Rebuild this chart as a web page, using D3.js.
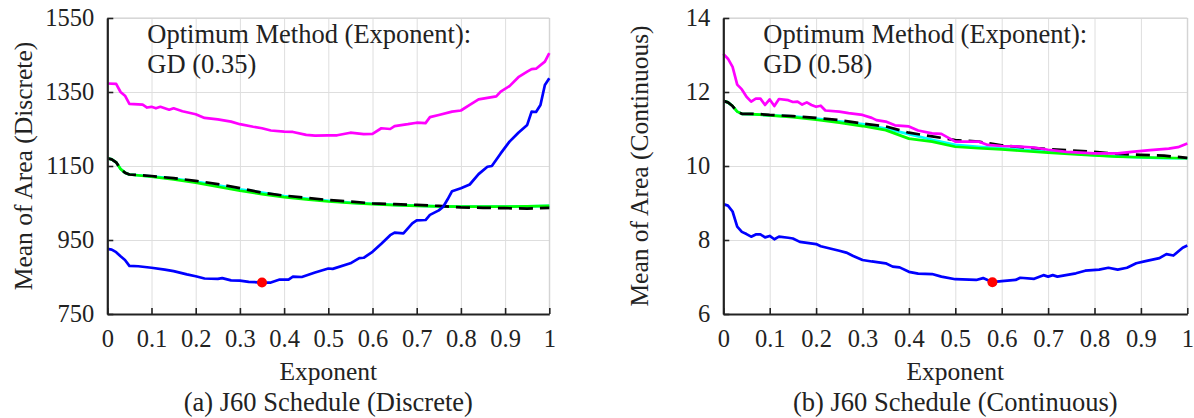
<!DOCTYPE html>
<html>
<head>
<meta charset="utf-8">
<script src="https://cdn.jsdelivr.net/npm/d3@7"></script>
<style>
  body { margin: 0; background: #fff; }
  svg text { font-family: "Liberation Serif", "Times New Roman", serif; fill: #222; }
</style>
</head>
<body>
<svg id="viz" width="1194" height="418"></svg>
<script>
// x tick labels shared by both panels
var xTicks = [0, 0.1, 0.2, 0.3, 0.4, 0.5, 0.6, 0.7, 0.8, 0.9, 1];
var xTickLabels = ["0", "0.1", "0.2", "0.3", "0.4", "0.5", "0.6", "0.7", "0.8", "0.9", "1"];

// (a) discrete
var discYTicks = [750, 950, 1150, 1350, 1550];
var discMagenta = [[0,1373],[0.02,1372],[0.03,1350],[0.04,1340],[0.05,1318],[0.08,1316],[0.09,1308],[0.1,1310],[0.11,1306],[0.12,1310],[0.14,1302],[0.15,1306],[0.17,1298],[0.2,1290],[0.22,1280],[0.25,1276],[0.28,1270],[0.3,1263],[0.33,1256],[0.35,1252],[0.37,1246],[0.4,1243],[0.42,1242],[0.45,1234],[0.47,1232],[0.5,1233],[0.52,1233],[0.55,1240],[0.58,1236],[0.6,1237],[0.62,1252],[0.64,1250],[0.65,1258],[0.68,1263],[0.7,1267],[0.72,1266],[0.73,1282],[0.75,1288],[0.78,1297],[0.8,1300],[0.82,1315],[0.84,1330],[0.86,1334],[0.88,1338],[0.89,1351],[0.91,1366],[0.93,1390],[0.95,1405],[0.96,1412],[0.97,1413],[0.99,1432],[1,1455]];
var discBlack = [[0,1171],[0.01,1168],[0.02,1160],[0.03,1142],[0.04,1132],[0.05,1127],[0.1,1123],[0.15,1117],[0.2,1110],[0.25,1101],[0.3,1090],[0.35,1078],[0.4,1070],[0.45,1064],[0.5,1058],[0.55,1054],[0.6,1049],[0.65,1047],[0.7,1045],[0.75,1042],[0.8,1038],[0.85,1037],[0.9,1036],[0.95,1035],[1,1037]];
var discCyan = [[0,1171],[0.01,1168],[0.02,1160],[0.03,1142],[0.04,1132],[0.05,1127],[0.1,1122],[0.15,1116],[0.2,1108],[0.25,1098],[0.3,1087],[0.35,1078],[0.4,1069],[0.45,1062],[0.5,1056],[0.55,1051],[0.6,1048],[0.65,1045],[0.7,1043],[0.75,1041],[0.8,1040],[0.85,1040],[0.9,1040],[0.95,1041],[1,1042]];
var discGreen = [[0,1171],[0.01,1168],[0.02,1160],[0.03,1142],[0.04,1132],[0.05,1127],[0.1,1121],[0.15,1114],[0.2,1105],[0.25,1094],[0.3,1083],[0.35,1074],[0.4,1066],[0.45,1060],[0.5,1054],[0.55,1050],[0.6,1047],[0.65,1044],[0.7,1042],[0.75,1041],[0.8,1040],[0.85,1040],[0.9,1040],[0.95,1041],[1,1042]];
var discBlue = [[0,926],[0.01,924],[0.02,917],[0.03,906],[0.04,896],[0.05,880],[0.07,879],[0.1,875],[0.13,870],[0.15,866],[0.18,857],[0.2,852],[0.22,846],[0.25,845],[0.26,847],[0.28,841],[0.3,840],[0.32,837],[0.35,835],[0.37,835],[0.39,843],[0.41,843],[0.42,851],[0.44,850],[0.47,862],[0.5,873],[0.51,872],[0.55,887],[0.57,901],[0.58,902],[0.6,918],[0.62,940],[0.64,963],[0.65,970],[0.67,968],[0.69,995],[0.7,1003],[0.72,1004],[0.73,1018],[0.75,1030],[0.76,1040],[0.77,1060],[0.78,1082],[0.8,1090],[0.82,1100],[0.84,1128],[0.86,1148],[0.87,1150],[0.89,1184],[0.91,1216],[0.93,1240],[0.95,1261],[0.96,1297],[0.97,1296],[0.98,1315],[0.99,1369],[1,1387]];
var discBest = [0.35, 835];

// (b) continuous
var contYTicks = [6, 8, 10, 12, 14];
var contMagenta = [[0,13.03],[0.01,12.9],[0.02,12.68],[0.03,12.2],[0.04,12.07],[0.05,11.87],[0.06,11.74],[0.07,11.82],[0.08,11.82],[0.09,11.65],[0.1,11.8],[0.11,11.62],[0.12,11.81],[0.14,11.78],[0.15,11.73],[0.16,11.74],[0.17,11.66],[0.18,11.72],[0.19,11.65],[0.2,11.6],[0.21,11.63],[0.22,11.5],[0.25,11.47],[0.27,11.43],[0.3,11.38],[0.32,11.3],[0.33,11.24],[0.35,11.2],[0.37,11.1],[0.4,11.07],[0.42,10.96],[0.45,10.88],[0.47,10.87],[0.5,10.66],[0.55,10.66],[0.57,10.57],[0.6,10.54],[0.63,10.53],[0.67,10.5],[0.7,10.44],[0.74,10.38],[0.8,10.34],[0.85,10.34],[0.88,10.38],[0.92,10.43],[0.96,10.47],[0.98,10.51],[1,10.61]];
var contBlack = [[0,11.76],[0.01,11.72],[0.02,11.62],[0.03,11.47],[0.04,11.41],[0.06,11.41],[0.08,11.4],[0.1,11.38],[0.15,11.35],[0.2,11.3],[0.25,11.24],[0.3,11.15],[0.35,11.07],[0.4,10.9],[0.45,10.8],[0.5,10.7],[0.55,10.66],[0.6,10.56],[0.65,10.5],[0.7,10.46],[0.75,10.42],[0.8,10.38],[0.85,10.33],[0.9,10.3],[0.95,10.28],[1,10.22]];
var contCyan = [[0,11.76],[0.01,11.72],[0.02,11.62],[0.03,11.47],[0.04,11.41],[0.06,11.4],[0.1,11.37],[0.15,11.34],[0.2,11.28],[0.25,11.21],[0.3,11.13],[0.35,11.01],[0.4,10.86],[0.45,10.71],[0.5,10.57],[0.55,10.52],[0.6,10.48],[0.65,10.43],[0.7,10.38],[0.75,10.34],[0.8,10.29],[0.85,10.26],[0.9,10.23],[0.95,10.21],[1,10.21]];
var contGreen = [[0,11.76],[0.01,11.72],[0.02,11.62],[0.03,11.47],[0.04,11.41],[0.06,11.4],[0.1,11.37],[0.15,11.32],[0.2,11.25],[0.25,11.17],[0.3,11.08],[0.35,10.97],[0.4,10.74],[0.45,10.66],[0.5,10.52],[0.55,10.48],[0.6,10.45],[0.63,10.42],[0.7,10.36],[0.78,10.3],[0.85,10.25],[0.92,10.23],[1,10.21]];
var contBlue = [[0,8.97],[0.01,8.93],[0.02,8.77],[0.03,8.36],[0.04,8.22],[0.05,8.16],[0.06,8.09],[0.07,8.15],[0.08,8.15],[0.09,8.07],[0.1,8.11],[0.11,8.02],[0.12,8.09],[0.14,8.06],[0.15,8.04],[0.165,7.95],[0.2,7.89],[0.21,7.83],[0.23,7.77],[0.25,7.71],[0.265,7.66],[0.28,7.57],[0.3,7.46],[0.32,7.42],[0.35,7.37],[0.365,7.28],[0.38,7.26],[0.4,7.14],[0.42,7.09],[0.45,7.08],[0.47,7.01],[0.5,6.94],[0.545,6.92],[0.56,6.97],[0.58,6.86],[0.6,6.89],[0.63,6.92],[0.64,6.98],[0.67,6.95],[0.69,7.05],[0.7,7.01],[0.71,7.05],[0.72,7.01],[0.76,7.1],[0.78,7.17],[0.81,7.2],[0.83,7.25],[0.85,7.2],[0.87,7.25],[0.89,7.37],[0.91,7.43],[0.94,7.51],[0.955,7.62],[0.97,7.58],[0.99,7.79],[1,7.85]];
var contBest = [0.58, 6.86];

var svg = d3.select("#viz");

var panels = [
    {x0: 107.3, x1: 549.3, yDomain: [750, 1550], yTicks: discYTicks,
     series: [discCyan, discGreen, discBlack, discMagenta, discBlue], best: discBest,
     ylabel: "Mean of Area (Discrete)", note: "GD (0.35)", caption: "(a) J60 Schedule (Discrete)"},
    {x0: 723.3, x1: 1187.3, yDomain: [6, 14], yTicks: contYTicks,
     series: [contCyan, contGreen, contBlack, contMagenta, contBlue], best: contBest,
     ylabel: "Mean of Area (Continuous)", note: "GD (0.58)", caption: "(b) J60 Schedule (Continuous)"}
];
var colors = ["#00ffff", "#00ff00", "#000000", "#ff00ff", "#0000ff"];
var yTop = 18, yBottom = 314;

panels.forEach(function(p) {
    var x = d3.scaleLinear().domain([0, 1]).range([p.x0, p.x1]);
    var y = d3.scaleLinear().domain(p.yDomain).range([yBottom, yTop]);
    var g = svg.append("g");

    // grid
    g.append("g").attr("transform", "translate(0," + yBottom + ")")
        .call(d3.axisBottom(x).tickValues(xTicks).tickSize(-(yBottom - yTop)).tickFormat(""))
        .call(function(s) { s.select(".domain").remove(); })
        .selectAll("line").attr("stroke", "#dedede");
    g.append("g").attr("transform", "translate(" + p.x0 + ",0)")
        .call(d3.axisLeft(y).tickValues(p.yTicks).tickSize(-(p.x1 - p.x0)).tickFormat(""))
        .call(function(s) { s.select(".domain").remove(); })
        .selectAll("line").attr("stroke", "#dedede");
    g.append("path")
        .attr("d", "M" + p.x0 + "," + yTop + "H" + p.x1 + "V" + yBottom)
        .attr("fill", "none").attr("stroke", "#cfcfcf");

    // series
    var line = d3.line().x(function(d) { return x(d[0]); }).y(function(d) { return y(d[1]); });
    p.series.forEach(function(s, i) {
        g.append("path").datum(s)
            .attr("d", line)
            .attr("fill", "none")
            .attr("stroke", colors[i])
            .attr("stroke-width", 2.7)
            .attr("stroke-linejoin", "round")
            .attr("stroke-dasharray", i == 2 ? "14,7" : null);
    });
    g.append("circle")
        .attr("cx", x(p.best[0])).attr("cy", y(p.best[1]))
        .attr("r", 5).attr("fill", "#ff0000");

    // axes
    var xa = g.append("g").attr("transform", "translate(0," + yBottom + ")")
        .call(d3.axisBottom(x).tickValues(xTicks).tickSizeInner(-6).tickSizeOuter(0).tickPadding(16)
            .tickFormat(function(d, i) { return xTickLabels[i]; }));
    var ya = g.append("g").attr("transform", "translate(" + p.x0 + ",0)")
        .call(d3.axisLeft(y).tickValues(p.yTicks).tickSizeInner(-6).tickSizeOuter(0).tickPadding(13)
            .tickFormat(d3.format("d")));
    [xa, ya].forEach(function(a) {
        a.select(".domain").attr("stroke", "#222").attr("stroke-width", 2.2);
        a.selectAll(".tick line").attr("stroke", "#222").attr("stroke-width", 1.6);
        a.selectAll("text").attr("font-family", "Liberation Serif").attr("font-size", 24.5).attr("fill", "#222");
    });

    // labels
    var cx = (p.x0 + p.x1) / 2;
    g.append("text").attr("x", cx).attr("y", 380).attr("text-anchor", "middle")
        .attr("font-size", 25.5).text("Exponent");
    g.append("text").attr("x", cx).attr("y", 411).attr("text-anchor", "middle")
        .attr("font-size", 26.5).text(p.caption);
    g.append("text")
        .attr("transform", "translate(" + (p.x0 - 75) + "," + ((yTop + yBottom) / 2) + ") rotate(-90)")
        .attr("text-anchor", "middle").attr("font-size", 25.5).text(p.ylabel);
    g.append("text").attr("x", p.x0 + 40).attr("y", 43)
        .attr("font-size", 26.5).text("Optimum Method (Exponent):");
    g.append("text").attr("x", p.x0 + 40).attr("y", 73)
        .attr("font-size", 26.5).text(p.note);
});
</script>
</body>
</html>
